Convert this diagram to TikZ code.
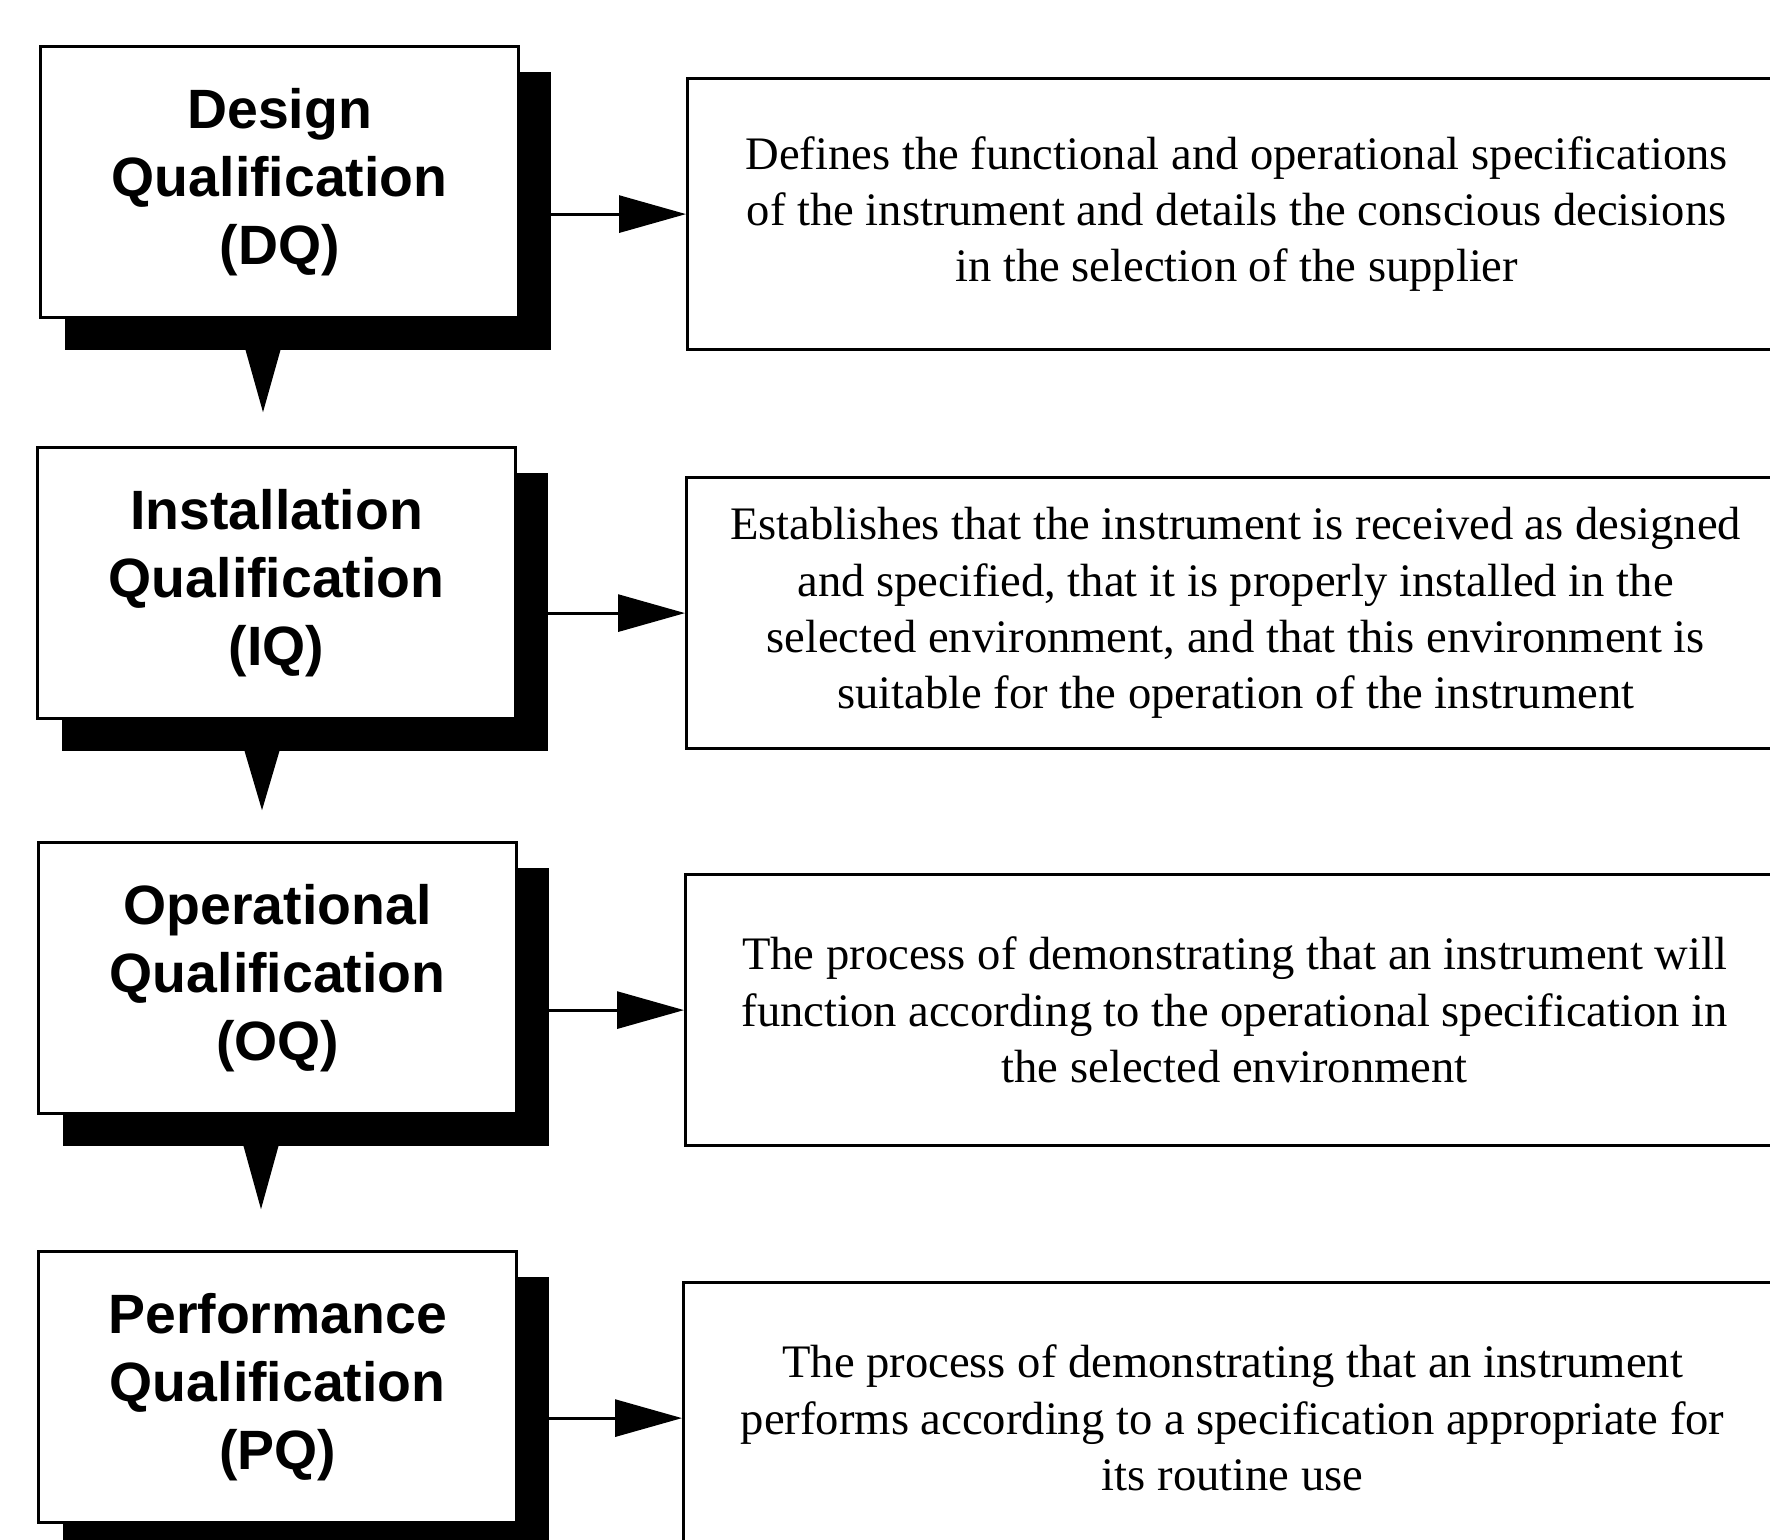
\documentclass[tikz,border=0pt]{standalone}
\usepackage{fontspec}
\setmainfont{Liberation Serif}
\newfontfamily\boxfont{Liberation Sans}
\usetikzlibrary{backgrounds,arrows.meta}
\begin{document}
\begin{tikzpicture}[x=0.5pt,y=-0.5pt,
  stage/.style={draw, line width=1.6pt, fill=white, inner sep=0pt,
    minimum width=239pt, minimum height=135.5pt, anchor=north west, align=center,
    font=\boxfont\bfseries\fontsize{27.7}{33.9}\selectfont},
  desc/.style={draw, line width=1.6pt, fill=white, inner sep=0pt,
    minimum width=549pt, minimum height=135.5pt, anchor=north west, align=center,
    font=\fontsize{23.3}{28.2}\selectfont},
  conn/.style={line width=1.5pt, -{Triangle[length=33.5pt,width=18.5pt]}},
  pointer/.style={fill=black},
  shade/.style={fill=black}]
\useasboundingbox (0,0) rectangle (1770,1540);
\clip (0,0) rectangle (1770,1540);

% left stage boxes
\node[stage] (dq) at (39,45) {Design\\Qualification\\(DQ)};
\node[stage] (iq) at (36,446) {Installation\\Qualification\\(IQ)};
\node[stage] (oq) at (37,841) {Operational\\Qualification\\(OQ)};
\node[stage] (pq) at (37,1250) {Performance\\Qualification\\(PQ)};

% shadows behind the stage boxes
\begin{scope}[on background layer]
\foreach \n in {dq,iq,oq,pq}
  \fill[shade] ([shift={(26,27)}]\n.north west) rectangle ([shift={(31,31)}]\n.south east);
\end{scope}

% right description boxes
\node[desc] (dqd) at (686,77) {Defines the functional and operational specifications\\of the instrument and details the conscious decisions\\in the selection of the supplier};
\node[desc] (iqd) at (685,476) {Establishes that the instrument is received as designed\\and specified, that it is properly installed in the\\selected environment, and that this environment is\\suitable for the operation of the instrument};
\node[desc] (oqd) at (684,873) {The process of demonstrating that an instrument will\\function according to the operational specification in\\the selected environment};
\node[desc] (pqd) at (682,1281) {The process of demonstrating that an instrument\\performs according to a specification appropriate for\\its routine use};

% shadow right edges
\coordinate (dqs) at ([xshift=15.5pt]dq.east);
\coordinate (iqs) at ([xshift=15.5pt]iq.east);
\coordinate (oqs) at ([xshift=15.5pt]oq.east);
\coordinate (pqs) at ([xshift=15.5pt]pq.east);

% horizontal connectors
\draw[conn] (dqd.west -| dqs) -- (dqd.west);
\draw[conn] (iqd.west -| iqs) -- (iqd.west);
\draw[conn] (oqd.west -| oqs) -- (oqd.west);
\draw[conn] (pqd.west -| pqs) -- (pqd.west);

% downward pointers
\fill[pointer] ([shift={(206,29)}]dq.south west) -- ([shift={(242,29)}]dq.south west) -- ([shift={(224,93)}]dq.south west) -- cycle;
\fill[pointer] ([shift={(208,29)}]iq.south west) -- ([shift={(244,29)}]iq.south west) -- ([shift={(226,90)}]iq.south west) -- cycle;
\fill[pointer] ([shift={(206,29)}]oq.south west) -- ([shift={(242,29)}]oq.south west) -- ([shift={(224,94)}]oq.south west) -- cycle;
\end{tikzpicture}
\end{document}
